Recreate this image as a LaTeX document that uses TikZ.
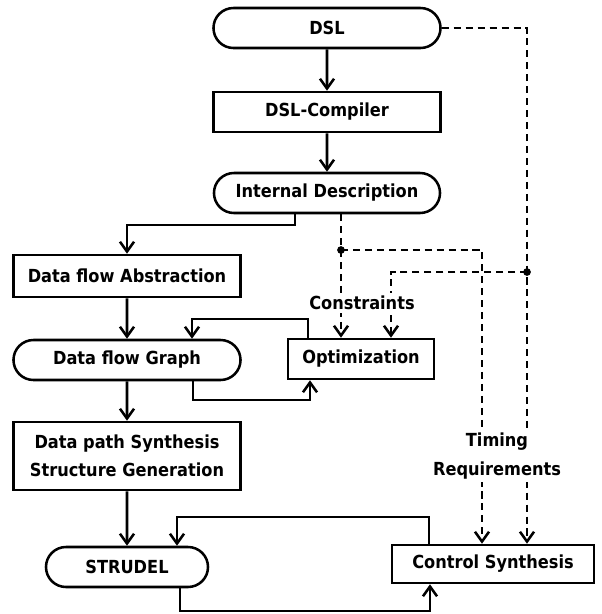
\documentclass[tikz,border=0pt]{standalone}
\usepackage{fontspec}
\setmainfont[FakeStretch=0.9]{DejaVu Sans}
\usetikzlibrary{shapes.misc,arrows.meta}

\tikzset{
  txt/.style={font=\bfseries\fontsize{12.8}{20}\selectfont},
  box/.style={txt, draw, rectangle, line width=1.8pt, inner sep=0pt, align=center},
  term/.style={box, rounded rectangle},
  flow/.style={line width=1.8pt, -{Straight Barb[length=7pt,width=10pt]}},
  ctl/.style={flow, dash pattern=on 5pt off 3.5pt},
  jn/.style={circle, fill, inner sep=0pt, minimum size=5.5pt},
  lbl/.style={txt, fill=white, inner sep=2pt, align=center}
}

\begin{document}
\begin{tikzpicture}[x=0.025cm, y=-0.025cm]
\useasboundingbox (0,0) rectangle (602,614);
% main chain
\node[term, minimum width=5.675cm, minimum height=1cm] (dsl) at (327,28) {DSL};
\node[box, minimum width=5.675cm, minimum height=1cm] (comp) at (327,112) {DSL-Compiler};
\node[term, minimum width=5.65cm, minimum height=1cm] (intd) at (327,193) {Internal Description};
\node[box, minimum width=5.675cm, minimum height=1.05cm] (dfa) at (127,276) {Data flow Abstraction};
\node[term, minimum width=5.675cm, minimum height=1cm] (dfg) at (127,360) {Data flow Graph};
\node[box, minimum width=3.65cm, minimum height=1cm] (opt) at (361,359) {Optimization};
\node[box, minimum width=5.675cm, minimum height=1.7cm] (dps) at (127,456) {Data path Synthesis\\Structure Generation};
\node[term, minimum width=4.05cm, minimum height=1cm] (strudel) at (127,567) {STRUDEL};
\node[box, minimum width=5.05cm, minimum height=0.95cm] (ctrl) at (493,564) {Control Synthesis};

% bend points
\coordinate (a1) at (295,225);
\coordinate (b1) at (308,319);
\coordinate (b2) at (192,319);
\coordinate (c1) at (193,400);
\coordinate (c2) at (310,400);
\coordinate (d1) at (429,517);
\coordinate (d2) at (177,517);
\coordinate (e1) at (180,611);
\coordinate (e2) at (430,611);

\draw[flow] (dsl) -- (comp);
\draw[flow] (comp) -- (intd);
\draw[flow] (intd.south -| a1) -- (a1) -| (dfa.north);
\draw[flow] (dfa) -- (dfg);
\draw[flow] (opt.north -| b1) -- (b1) -- (b2) -- (dfg.north -| b2);
\draw[flow] (dfg.south -| c1) -- (c1) -- (c2) -- (opt.south -| c2);
\draw[flow] (dfg) -- (dps);
\draw[flow] (dps) -- (strudel);
\draw[flow] (ctrl.north -| d1) -- (d1) -- (d2) -- (strudel.north -| d2);
\draw[flow] (strudel.south -| e1) -- (e1) -- (e2) -- (ctrl.south -| e2);

% constraints and timing (dashed)
\node[jn] (j1) at (341,250) {};
\node[jn] (j2) at (527,272) {};
\coordinate (f1) at (527,28);
\coordinate (g1) at (482,250);
\coordinate (h1) at (391,272);
\draw[ctl] (dsl.east) -- (f1) -- (ctrl.north -| f1);
\draw[ctl] (intd.south -| j1) -- (j1.center) -- (opt.north -| j1);
\draw[ctl] (j1.center) -- (g1) -- (ctrl.north -| g1);
\draw[ctl] (j2.center) -- (h1) -- (opt.north -| h1);

\node[lbl] (cons) at (362,303) {Constraints};
\node[lbl] (timing) at (497,456) {Timing\\Requirements};
\end{tikzpicture}
\end{document}
